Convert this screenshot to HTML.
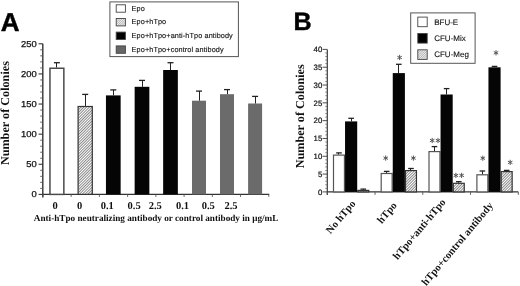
<!DOCTYPE html>
<html><head><meta charset="utf-8"><style>
html,body{margin:0;padding:0;background:#fff;overflow:hidden;}
svg{display:block;filter:grayscale(1);}
</style></head><body>
<svg text-rendering="geometricPrecision" width="520" height="286" viewBox="0 0 520 286">
<defs>
<pattern id="hatch" patternUnits="userSpaceOnUse" width="1.95" height="1.95" patternTransform="rotate(45)">
<rect width="1.95" height="1.95" fill="#fff"/><rect width="0.7" height="1.95" fill="#5a5a5a"/></pattern>
<pattern id="hatchL" patternUnits="userSpaceOnUse" width="1.6" height="1.6" patternTransform="rotate(45)">
<rect width="1.6" height="1.6" fill="#f2f2f2"/><rect width="0.7" height="1.6" fill="#aaa"/></pattern>
</defs>
<rect width="520" height="286" fill="#fff"/>
<text x="0.7" y="30.5" font-family='"Liberation Sans", sans-serif' font-size="25.8" font-weight="bold" text-anchor="start" fill="#000" stroke="#000" stroke-width="0.45" transform-origin="0.6 0" style="transform:scaleX(1.01)">A</text>
<rect x="109.9" y="1.9" width="128.5" height="54.7" fill="#fff" stroke="#555" stroke-width="1"/>
<rect x="116.2" y="4.8" width="9.2" height="7.4" fill="#fff" stroke="#444" stroke-width="0.9"/>
<text x="131.6" y="10.6" font-family='"Liberation Sans", sans-serif' font-size="7.3" font-weight="normal" text-anchor="start" fill="#111" stroke="#111" stroke-width="0.12" letter-spacing="0.1">Epo</text>
<rect x="116.2" y="18.5" width="9.2" height="7.4" fill="url(#hatchL)" stroke="#444" stroke-width="0.9"/>
<text x="131.6" y="24.3" font-family='"Liberation Sans", sans-serif' font-size="7.3" font-weight="normal" text-anchor="start" fill="#111" stroke="#111" stroke-width="0.12" letter-spacing="0.1">Epo+hTpo</text>
<rect x="116.2" y="32.1" width="9.2" height="7.4" fill="#000" stroke="#444" stroke-width="0.9"/>
<text x="131.6" y="37.9" font-family='"Liberation Sans", sans-serif' font-size="7.3" font-weight="normal" text-anchor="start" fill="#111" stroke="#111" stroke-width="0.12" letter-spacing="0.1">Epo+hTpo+anti-hTpo antibody</text>
<rect x="116.2" y="45.9" width="9.2" height="7.4" fill="#666" stroke="#444" stroke-width="0.9"/>
<text x="131.6" y="51.699999999999996" font-family='"Liberation Sans", sans-serif' font-size="7.3" font-weight="normal" text-anchor="start" fill="#111" stroke="#111" stroke-width="0.12" letter-spacing="0.1">Epo+hTpo+control antibody</text>
<line x1="42.8" y1="43.8" x2="42.8" y2="197.5" stroke="#333" stroke-width="1.4"/>
<line x1="38.6" y1="194.4" x2="42.8" y2="194.4" stroke="#333" stroke-width="1.1"/>
<text x="36.7" y="197.4" font-family='"Liberation Sans", sans-serif' font-size="8.6" font-weight="normal" text-anchor="end" fill="#111" stroke="#111" stroke-width="0.25" transform-origin="37 0" style="transform:scaleX(1.1)">0</text>
<line x1="40.2" y1="188.38" x2="42.8" y2="188.38" stroke="#555" stroke-width="0.9"/>
<line x1="40.2" y1="182.35" x2="42.8" y2="182.35" stroke="#555" stroke-width="0.9"/>
<line x1="40.2" y1="176.33" x2="42.8" y2="176.33" stroke="#555" stroke-width="0.9"/>
<line x1="40.2" y1="170.3" x2="42.8" y2="170.3" stroke="#555" stroke-width="0.9"/>
<line x1="38.6" y1="164.28" x2="42.8" y2="164.28" stroke="#333" stroke-width="1.1"/>
<text x="36.7" y="167.28" font-family='"Liberation Sans", sans-serif' font-size="8.6" font-weight="normal" text-anchor="end" fill="#111" stroke="#111" stroke-width="0.25" transform-origin="37 0" style="transform:scaleX(1.1)">50</text>
<line x1="40.2" y1="158.26" x2="42.8" y2="158.26" stroke="#555" stroke-width="0.9"/>
<line x1="40.2" y1="152.23" x2="42.8" y2="152.23" stroke="#555" stroke-width="0.9"/>
<line x1="40.2" y1="146.21" x2="42.8" y2="146.21" stroke="#555" stroke-width="0.9"/>
<line x1="40.2" y1="140.18" x2="42.8" y2="140.18" stroke="#555" stroke-width="0.9"/>
<line x1="38.6" y1="134.16" x2="42.8" y2="134.16" stroke="#333" stroke-width="1.1"/>
<text x="36.7" y="137.16" font-family='"Liberation Sans", sans-serif' font-size="8.6" font-weight="normal" text-anchor="end" fill="#111" stroke="#111" stroke-width="0.25" transform-origin="37 0" style="transform:scaleX(1.1)">100</text>
<line x1="40.2" y1="128.14" x2="42.8" y2="128.14" stroke="#555" stroke-width="0.9"/>
<line x1="40.2" y1="122.11" x2="42.8" y2="122.11" stroke="#555" stroke-width="0.9"/>
<line x1="40.2" y1="116.09" x2="42.8" y2="116.09" stroke="#555" stroke-width="0.9"/>
<line x1="40.2" y1="110.06" x2="42.8" y2="110.06" stroke="#555" stroke-width="0.9"/>
<line x1="38.6" y1="104.04" x2="42.8" y2="104.04" stroke="#333" stroke-width="1.1"/>
<text x="36.7" y="107.04" font-family='"Liberation Sans", sans-serif' font-size="8.6" font-weight="normal" text-anchor="end" fill="#111" stroke="#111" stroke-width="0.25" transform-origin="37 0" style="transform:scaleX(1.1)">150</text>
<line x1="40.2" y1="98.02" x2="42.8" y2="98.02" stroke="#555" stroke-width="0.9"/>
<line x1="40.2" y1="91.99" x2="42.8" y2="91.99" stroke="#555" stroke-width="0.9"/>
<line x1="40.2" y1="85.97" x2="42.8" y2="85.97" stroke="#555" stroke-width="0.9"/>
<line x1="40.2" y1="79.94" x2="42.8" y2="79.94" stroke="#555" stroke-width="0.9"/>
<line x1="38.6" y1="73.92" x2="42.8" y2="73.92" stroke="#333" stroke-width="1.1"/>
<text x="36.7" y="76.92" font-family='"Liberation Sans", sans-serif' font-size="8.6" font-weight="normal" text-anchor="end" fill="#111" stroke="#111" stroke-width="0.25" transform-origin="37 0" style="transform:scaleX(1.1)">200</text>
<line x1="40.2" y1="67.9" x2="42.8" y2="67.9" stroke="#555" stroke-width="0.9"/>
<line x1="40.2" y1="61.87" x2="42.8" y2="61.87" stroke="#555" stroke-width="0.9"/>
<line x1="40.2" y1="55.85" x2="42.8" y2="55.85" stroke="#555" stroke-width="0.9"/>
<line x1="40.2" y1="49.82" x2="42.8" y2="49.82" stroke="#555" stroke-width="0.9"/>
<line x1="38.6" y1="43.8" x2="42.8" y2="43.8" stroke="#333" stroke-width="1.1"/>
<text x="36.7" y="46.8" font-family='"Liberation Sans", sans-serif' font-size="8.6" font-weight="normal" text-anchor="end" fill="#111" stroke="#111" stroke-width="0.25" transform-origin="37 0" style="transform:scaleX(1.1)">250</text>
<line x1="42.8" y1="194.4" x2="269.2" y2="194.4" stroke="#333" stroke-width="1.2"/>
<line x1="42.9" y1="194.4" x2="42.9" y2="196.9" stroke="#555" stroke-width="0.9"/>
<line x1="71.14" y1="194.4" x2="71.14" y2="196.9" stroke="#555" stroke-width="0.9"/>
<line x1="99.38" y1="194.4" x2="99.38" y2="196.9" stroke="#555" stroke-width="0.9"/>
<line x1="127.62" y1="194.4" x2="127.62" y2="196.9" stroke="#555" stroke-width="0.9"/>
<line x1="155.86" y1="194.4" x2="155.86" y2="196.9" stroke="#555" stroke-width="0.9"/>
<line x1="184.1" y1="194.4" x2="184.1" y2="196.9" stroke="#555" stroke-width="0.9"/>
<line x1="212.34" y1="194.4" x2="212.34" y2="196.9" stroke="#555" stroke-width="0.9"/>
<line x1="240.58" y1="194.4" x2="240.58" y2="196.9" stroke="#555" stroke-width="0.9"/>
<line x1="268.82" y1="194.4" x2="268.82" y2="196.9" stroke="#555" stroke-width="0.9"/>
<rect x="49.95" y="68.25" width="13.9" height="126.15" fill="#fff" stroke="#4a4a4a" stroke-width="1.5"/>
<line x1="56.5" y1="67.5" x2="56.5" y2="62.6" stroke="#222" stroke-width="1.0"/>
<line x1="53.9" y1="62.7" x2="59.9" y2="62.7" stroke="#222" stroke-width="1.3"/>
<rect x="78.1" y="106.5" width="14.200000000000001" height="87.9" fill="url(#hatch)" stroke="#333" stroke-width="1.2"/>
<line x1="85.5" y1="105.9" x2="85.5" y2="94.3" stroke="#222" stroke-width="1.0"/>
<line x1="82.2" y1="94.39999999999999" x2="88.2" y2="94.39999999999999" stroke="#222" stroke-width="1.3"/>
<rect x="105.95" y="95.4" width="14.7" height="99.0" fill="#050505" stroke="none" stroke-width="1"/>
<line x1="113.5" y1="95.4" x2="113.5" y2="89.8" stroke="#222" stroke-width="1.0"/>
<line x1="110.3" y1="89.89999999999999" x2="116.3" y2="89.89999999999999" stroke="#222" stroke-width="1.3"/>
<rect x="134.65" y="86.8" width="14.7" height="107.60000000000001" fill="#050505" stroke="none" stroke-width="1"/>
<line x1="142.5" y1="86.8" x2="142.5" y2="80.3" stroke="#222" stroke-width="1.0"/>
<line x1="139.0" y1="80.39999999999999" x2="145.0" y2="80.39999999999999" stroke="#222" stroke-width="1.3"/>
<rect x="163.15" y="70.0" width="14.7" height="124.4" fill="#050505" stroke="none" stroke-width="1"/>
<line x1="170.5" y1="70.0" x2="170.5" y2="62.6" stroke="#222" stroke-width="1.0"/>
<line x1="167.5" y1="62.7" x2="173.5" y2="62.7" stroke="#222" stroke-width="1.3"/>
<rect x="192.0" y="100.7" width="14.0" height="93.7" fill="#6b6b6b" stroke="none" stroke-width="1"/>
<line x1="199.5" y1="100.7" x2="199.5" y2="91.0" stroke="#222" stroke-width="1.0"/>
<line x1="196.0" y1="91.1" x2="202.0" y2="91.1" stroke="#222" stroke-width="1.3"/>
<rect x="220.0" y="94.2" width="14.0" height="100.2" fill="#6b6b6b" stroke="none" stroke-width="1"/>
<line x1="227.5" y1="94.2" x2="227.5" y2="89.5" stroke="#222" stroke-width="1.0"/>
<line x1="224.0" y1="89.6" x2="230.0" y2="89.6" stroke="#222" stroke-width="1.3"/>
<rect x="248.1" y="103.5" width="14.0" height="90.9" fill="#6b6b6b" stroke="none" stroke-width="1"/>
<line x1="255.5" y1="103.5" x2="255.5" y2="96.3" stroke="#222" stroke-width="1.0"/>
<line x1="252.1" y1="96.39999999999999" x2="258.1" y2="96.39999999999999" stroke="#222" stroke-width="1.3"/>
<text x="55.0" y="208.5" font-family='"Liberation Serif", serif' font-size="10.5" font-weight="bold" text-anchor="middle" fill="#111" >0</text>
<text x="79.6" y="208.5" font-family='"Liberation Serif", serif' font-size="10.5" font-weight="bold" text-anchor="middle" fill="#111" >0</text>
<text x="107.2" y="208.5" font-family='"Liberation Serif", serif' font-size="10.5" font-weight="bold" text-anchor="middle" fill="#111" >0.1</text>
<text x="134.1" y="208.5" font-family='"Liberation Serif", serif' font-size="10.5" font-weight="bold" text-anchor="middle" fill="#111" >0.5</text>
<text x="155.2" y="208.5" font-family='"Liberation Serif", serif' font-size="10.5" font-weight="bold" text-anchor="middle" fill="#111" >2.5</text>
<text x="182.5" y="208.5" font-family='"Liberation Serif", serif' font-size="10.5" font-weight="bold" text-anchor="middle" fill="#111" >0.1</text>
<text x="208.2" y="208.5" font-family='"Liberation Serif", serif' font-size="10.5" font-weight="bold" text-anchor="middle" fill="#111" >0.5</text>
<text x="231.0" y="208.5" font-family='"Liberation Serif", serif' font-size="10.5" font-weight="bold" text-anchor="middle" fill="#111" >2.5</text>
<text x="33.8" y="220.8" font-family='"Liberation Serif", serif' font-size="9.2" font-weight="bold" text-anchor="start" fill="#111" >Anti-hTpo neutralizing antibody or control antibody in μg/mL</text>
<text x="0" y="0" font-family='"Liberation Serif", serif' font-size="12.2" font-weight="bold" fill="#111" text-anchor="middle" transform="translate(9.2,113.1) rotate(-90)">Number of Colonies</text>
<text x="293.6" y="30.1" font-family='"Liberation Sans", sans-serif' font-size="25.1" font-weight="bold" text-anchor="start" fill="#000" stroke="#000" stroke-width="0.4" >B</text>
<rect x="410.7" y="12.9" width="64.4" height="50.4" fill="#fff" stroke="#555" stroke-width="1"/>
<rect x="417.8" y="17.1" width="9.4" height="9.6" fill="#fff" stroke="#444" stroke-width="0.9"/>
<text x="434.2" y="24.5" font-family='"Liberation Sans", sans-serif' font-size="8" font-weight="normal" text-anchor="start" fill="#111" stroke="#111" stroke-width="0.12" >BFU-E</text>
<rect x="417.8" y="33.5" width="9.4" height="9.6" fill="#000" stroke="#444" stroke-width="0.9"/>
<text x="434.2" y="40.9" font-family='"Liberation Sans", sans-serif' font-size="8" font-weight="normal" text-anchor="start" fill="#111" stroke="#111" stroke-width="0.12" >CFU-Mix</text>
<rect x="417.8" y="49.8" width="9.4" height="9.6" fill="url(#hatchL)" stroke="#444" stroke-width="0.9"/>
<text x="434.2" y="57.199999999999996" font-family='"Liberation Sans", sans-serif' font-size="8" font-weight="normal" text-anchor="start" fill="#111" stroke="#111" stroke-width="0.12" >CFU-Meg</text>
<line x1="327.3" y1="49.4" x2="327.3" y2="195" stroke="#3a3a3a" stroke-width="1.2"/>
<line x1="322.6" y1="191.9" x2="327.3" y2="191.9" stroke="#3a3a3a" stroke-width="0.9"/>
<text x="322.3" y="194.70000000000002" font-family='"Liberation Sans", sans-serif' font-size="7.8" font-weight="normal" text-anchor="end" fill="#111" stroke="#111" stroke-width="0.2" >0</text>
<line x1="325.3" y1="188.34" x2="327.3" y2="188.34" stroke="#666" stroke-width="0.8"/>
<line x1="325.3" y1="184.78" x2="327.3" y2="184.78" stroke="#666" stroke-width="0.8"/>
<line x1="325.3" y1="181.21" x2="327.3" y2="181.21" stroke="#666" stroke-width="0.8"/>
<line x1="325.3" y1="177.65" x2="327.3" y2="177.65" stroke="#666" stroke-width="0.8"/>
<line x1="322.6" y1="174.09" x2="327.3" y2="174.09" stroke="#3a3a3a" stroke-width="0.9"/>
<text x="322.3" y="176.89000000000001" font-family='"Liberation Sans", sans-serif' font-size="7.8" font-weight="normal" text-anchor="end" fill="#111" stroke="#111" stroke-width="0.2" >5</text>
<line x1="325.3" y1="170.53" x2="327.3" y2="170.53" stroke="#666" stroke-width="0.8"/>
<line x1="325.3" y1="166.96" x2="327.3" y2="166.96" stroke="#666" stroke-width="0.8"/>
<line x1="325.3" y1="163.4" x2="327.3" y2="163.4" stroke="#666" stroke-width="0.8"/>
<line x1="325.3" y1="159.84" x2="327.3" y2="159.84" stroke="#666" stroke-width="0.8"/>
<line x1="322.6" y1="156.28" x2="327.3" y2="156.28" stroke="#3a3a3a" stroke-width="0.9"/>
<text x="322.3" y="159.08" font-family='"Liberation Sans", sans-serif' font-size="7.8" font-weight="normal" text-anchor="end" fill="#111" stroke="#111" stroke-width="0.2" >10</text>
<line x1="325.3" y1="152.71" x2="327.3" y2="152.71" stroke="#666" stroke-width="0.8"/>
<line x1="325.3" y1="149.15" x2="327.3" y2="149.15" stroke="#666" stroke-width="0.8"/>
<line x1="325.3" y1="145.59" x2="327.3" y2="145.59" stroke="#666" stroke-width="0.8"/>
<line x1="325.3" y1="142.03" x2="327.3" y2="142.03" stroke="#666" stroke-width="0.8"/>
<line x1="322.6" y1="138.46" x2="327.3" y2="138.46" stroke="#3a3a3a" stroke-width="0.9"/>
<text x="322.3" y="141.26000000000002" font-family='"Liberation Sans", sans-serif' font-size="7.8" font-weight="normal" text-anchor="end" fill="#111" stroke="#111" stroke-width="0.2" >15</text>
<line x1="325.3" y1="134.9" x2="327.3" y2="134.9" stroke="#666" stroke-width="0.8"/>
<line x1="325.3" y1="131.34" x2="327.3" y2="131.34" stroke="#666" stroke-width="0.8"/>
<line x1="325.3" y1="127.78" x2="327.3" y2="127.78" stroke="#666" stroke-width="0.8"/>
<line x1="325.3" y1="124.21" x2="327.3" y2="124.21" stroke="#666" stroke-width="0.8"/>
<line x1="322.6" y1="120.65" x2="327.3" y2="120.65" stroke="#3a3a3a" stroke-width="0.9"/>
<text x="322.3" y="123.45" font-family='"Liberation Sans", sans-serif' font-size="7.8" font-weight="normal" text-anchor="end" fill="#111" stroke="#111" stroke-width="0.2" >20</text>
<line x1="325.3" y1="117.09" x2="327.3" y2="117.09" stroke="#666" stroke-width="0.8"/>
<line x1="325.3" y1="113.53" x2="327.3" y2="113.53" stroke="#666" stroke-width="0.8"/>
<line x1="325.3" y1="109.96" x2="327.3" y2="109.96" stroke="#666" stroke-width="0.8"/>
<line x1="325.3" y1="106.4" x2="327.3" y2="106.4" stroke="#666" stroke-width="0.8"/>
<line x1="322.6" y1="102.84" x2="327.3" y2="102.84" stroke="#3a3a3a" stroke-width="0.9"/>
<text x="322.3" y="105.64" font-family='"Liberation Sans", sans-serif' font-size="7.8" font-weight="normal" text-anchor="end" fill="#111" stroke="#111" stroke-width="0.2" >25</text>
<line x1="325.3" y1="99.28" x2="327.3" y2="99.28" stroke="#666" stroke-width="0.8"/>
<line x1="325.3" y1="95.71" x2="327.3" y2="95.71" stroke="#666" stroke-width="0.8"/>
<line x1="325.3" y1="92.15" x2="327.3" y2="92.15" stroke="#666" stroke-width="0.8"/>
<line x1="325.3" y1="88.59" x2="327.3" y2="88.59" stroke="#666" stroke-width="0.8"/>
<line x1="322.6" y1="85.03" x2="327.3" y2="85.03" stroke="#3a3a3a" stroke-width="0.9"/>
<text x="322.3" y="87.83" font-family='"Liberation Sans", sans-serif' font-size="7.8" font-weight="normal" text-anchor="end" fill="#111" stroke="#111" stroke-width="0.2" >30</text>
<line x1="325.3" y1="81.46" x2="327.3" y2="81.46" stroke="#666" stroke-width="0.8"/>
<line x1="325.3" y1="77.9" x2="327.3" y2="77.9" stroke="#666" stroke-width="0.8"/>
<line x1="325.3" y1="74.34" x2="327.3" y2="74.34" stroke="#666" stroke-width="0.8"/>
<line x1="325.3" y1="70.78" x2="327.3" y2="70.78" stroke="#666" stroke-width="0.8"/>
<line x1="322.6" y1="67.21" x2="327.3" y2="67.21" stroke="#3a3a3a" stroke-width="0.9"/>
<text x="322.3" y="70.00999999999999" font-family='"Liberation Sans", sans-serif' font-size="7.8" font-weight="normal" text-anchor="end" fill="#111" stroke="#111" stroke-width="0.2" >35</text>
<line x1="325.3" y1="63.65" x2="327.3" y2="63.65" stroke="#666" stroke-width="0.8"/>
<line x1="325.3" y1="60.09" x2="327.3" y2="60.09" stroke="#666" stroke-width="0.8"/>
<line x1="325.3" y1="56.53" x2="327.3" y2="56.53" stroke="#666" stroke-width="0.8"/>
<line x1="325.3" y1="52.96" x2="327.3" y2="52.96" stroke="#666" stroke-width="0.8"/>
<line x1="322.6" y1="49.4" x2="327.3" y2="49.4" stroke="#3a3a3a" stroke-width="0.9"/>
<text x="322.3" y="52.199999999999996" font-family='"Liberation Sans", sans-serif' font-size="7.8" font-weight="normal" text-anchor="end" fill="#111" stroke="#111" stroke-width="0.2" >40</text>
<line x1="327.3" y1="191.9" x2="518.3" y2="191.9" stroke="#333" stroke-width="1.2"/>
<line x1="327.3" y1="191.9" x2="327.3" y2="194.9" stroke="#555" stroke-width="0.9"/>
<line x1="375.05" y1="191.9" x2="375.05" y2="194.9" stroke="#555" stroke-width="0.9"/>
<line x1="422.8" y1="191.9" x2="422.8" y2="194.9" stroke="#555" stroke-width="0.9"/>
<line x1="470.55" y1="191.9" x2="470.55" y2="194.9" stroke="#555" stroke-width="0.9"/>
<line x1="518.3" y1="191.9" x2="518.3" y2="194.9" stroke="#555" stroke-width="0.9"/>
<rect x="333.5" y="155.1" width="10.950000000000001" height="36.800000000000004" fill="#fff" stroke="#555" stroke-width="1.2"/>
<line x1="338.5" y1="154.5" x2="338.5" y2="152.8" stroke="#222" stroke-width="1.0"/>
<line x1="336.17" y1="152.9" x2="341.77" y2="152.9" stroke="#222" stroke-width="1.3"/>
<rect x="345.05" y="121.4" width="12.15" height="70.5" fill="#050505" stroke="none" stroke-width="1"/>
<line x1="351.5" y1="121.4" x2="351.5" y2="118.2" stroke="#222" stroke-width="1.0"/>
<line x1="348.32" y1="118.3" x2="353.92" y2="118.3" stroke="#222" stroke-width="1.3"/>
<rect x="357.8" y="190.4" width="10.950000000000001" height="1.4999999999999942" fill="url(#hatch)" stroke="#333" stroke-width="1.2"/>
<line x1="363.5" y1="189.8" x2="363.5" y2="189.0" stroke="#222" stroke-width="1.0"/>
<line x1="360.47" y1="189.1" x2="366.07" y2="189.1" stroke="#222" stroke-width="1.3"/>
<rect x="381.20000000000005" y="173.5" width="10.950000000000001" height="18.4" fill="#fff" stroke="#555" stroke-width="1.2"/>
<line x1="386.5" y1="172.9" x2="386.5" y2="171.3" stroke="#222" stroke-width="1.0"/>
<line x1="383.88" y1="171.4" x2="389.48" y2="171.4" stroke="#222" stroke-width="1.3"/>
<rect x="392.75" y="73.1" width="12.15" height="118.80000000000001" fill="#050505" stroke="none" stroke-width="1"/>
<line x1="398.5" y1="73.1" x2="398.5" y2="64.2" stroke="#222" stroke-width="1.0"/>
<line x1="396.02" y1="64.3" x2="401.62" y2="64.3" stroke="#222" stroke-width="1.3"/>
<rect x="405.5" y="170.6" width="10.950000000000001" height="21.300000000000004" fill="url(#hatch)" stroke="#333" stroke-width="1.2"/>
<line x1="410.5" y1="170.0" x2="410.5" y2="168.4" stroke="#222" stroke-width="1.0"/>
<line x1="408.17" y1="168.5" x2="413.77" y2="168.5" stroke="#222" stroke-width="1.3"/>
<rect x="429.0" y="151.6" width="10.950000000000001" height="40.300000000000004" fill="#fff" stroke="#555" stroke-width="1.2"/>
<line x1="434.5" y1="151.0" x2="434.5" y2="146.5" stroke="#222" stroke-width="1.0"/>
<line x1="431.67" y1="146.6" x2="437.27" y2="146.6" stroke="#222" stroke-width="1.3"/>
<rect x="440.55" y="94.5" width="12.15" height="97.4" fill="#050505" stroke="none" stroke-width="1"/>
<line x1="446.5" y1="94.5" x2="446.5" y2="88.5" stroke="#222" stroke-width="1.0"/>
<line x1="443.82" y1="88.6" x2="449.42" y2="88.6" stroke="#222" stroke-width="1.3"/>
<rect x="453.3" y="183.29999999999998" width="10.950000000000001" height="8.600000000000017" fill="url(#hatch)" stroke="#333" stroke-width="1.2"/>
<line x1="458.5" y1="182.7" x2="458.5" y2="181.6" stroke="#222" stroke-width="1.0"/>
<line x1="455.97" y1="181.7" x2="461.57" y2="181.7" stroke="#222" stroke-width="1.3"/>
<rect x="476.90000000000003" y="174.79999999999998" width="10.950000000000001" height="17.100000000000016" fill="#fff" stroke="#555" stroke-width="1.2"/>
<line x1="482.5" y1="174.2" x2="482.5" y2="170.9" stroke="#222" stroke-width="1.0"/>
<line x1="479.58" y1="171.0" x2="485.18" y2="171.0" stroke="#222" stroke-width="1.3"/>
<rect x="488.45" y="67.3" width="12.15" height="124.60000000000001" fill="#050505" stroke="none" stroke-width="1"/>
<line x1="494.5" y1="67.3" x2="494.5" y2="66.3" stroke="#222" stroke-width="1.0"/>
<line x1="491.72" y1="66.39999999999999" x2="497.32" y2="66.39999999999999" stroke="#222" stroke-width="1.3"/>
<rect x="501.20000000000005" y="171.6" width="10.950000000000001" height="20.300000000000004" fill="url(#hatch)" stroke="#333" stroke-width="1.2"/>
<line x1="506.5" y1="171.0" x2="506.5" y2="170.3" stroke="#222" stroke-width="1.0"/>
<line x1="503.88" y1="170.4" x2="509.48" y2="170.4" stroke="#222" stroke-width="1.3"/>
<line x1="399.6" y1="54.9" x2="399.6" y2="60.1" stroke="#555" stroke-width="1.0"/>
<line x1="397.35" y1="56.2" x2="401.85" y2="58.8" stroke="#555" stroke-width="1.0"/>
<line x1="401.85" y1="56.2" x2="397.35" y2="58.8" stroke="#555" stroke-width="1.0"/>
<line x1="385.7" y1="155.5" x2="385.7" y2="160.7" stroke="#555" stroke-width="1.0"/>
<line x1="383.45" y1="156.8" x2="387.95" y2="159.4" stroke="#555" stroke-width="1.0"/>
<line x1="387.95" y1="156.8" x2="383.45" y2="159.4" stroke="#555" stroke-width="1.0"/>
<line x1="413.4" y1="155.5" x2="413.4" y2="160.7" stroke="#555" stroke-width="1.0"/>
<line x1="411.15" y1="156.8" x2="415.65" y2="159.4" stroke="#555" stroke-width="1.0"/>
<line x1="415.65" y1="156.8" x2="411.15" y2="159.4" stroke="#555" stroke-width="1.0"/>
<line x1="510.2" y1="159.8" x2="510.2" y2="165.0" stroke="#555" stroke-width="1.0"/>
<line x1="507.95" y1="161.1" x2="512.45" y2="163.7" stroke="#555" stroke-width="1.0"/>
<line x1="512.45" y1="161.1" x2="507.95" y2="163.7" stroke="#555" stroke-width="1.0"/>
<line x1="496.0" y1="50.2" x2="496.0" y2="55.4" stroke="#555" stroke-width="1.0"/>
<line x1="493.75" y1="51.5" x2="498.25" y2="54.1" stroke="#555" stroke-width="1.0"/>
<line x1="498.25" y1="51.5" x2="493.75" y2="54.1" stroke="#555" stroke-width="1.0"/>
<line x1="482.8" y1="155.6" x2="482.8" y2="160.8" stroke="#555" stroke-width="1.0"/>
<line x1="480.55" y1="156.9" x2="485.05" y2="159.5" stroke="#555" stroke-width="1.0"/>
<line x1="485.05" y1="156.9" x2="480.55" y2="159.5" stroke="#555" stroke-width="1.0"/>
<line x1="432.2" y1="137.9" x2="432.2" y2="143.1" stroke="#555" stroke-width="1.0"/>
<line x1="429.95" y1="139.2" x2="434.45" y2="141.8" stroke="#555" stroke-width="1.0"/>
<line x1="434.45" y1="139.2" x2="429.95" y2="141.8" stroke="#555" stroke-width="1.0"/>
<line x1="438.0" y1="137.9" x2="438.0" y2="143.1" stroke="#555" stroke-width="1.0"/>
<line x1="435.75" y1="139.2" x2="440.25" y2="141.8" stroke="#555" stroke-width="1.0"/>
<line x1="440.25" y1="139.2" x2="435.75" y2="141.8" stroke="#555" stroke-width="1.0"/>
<line x1="455.9" y1="172.8" x2="455.9" y2="178.0" stroke="#555" stroke-width="1.0"/>
<line x1="453.65" y1="174.1" x2="458.15" y2="176.7" stroke="#555" stroke-width="1.0"/>
<line x1="458.15" y1="174.1" x2="453.65" y2="176.7" stroke="#555" stroke-width="1.0"/>
<line x1="461.6" y1="172.8" x2="461.6" y2="178.0" stroke="#555" stroke-width="1.0"/>
<line x1="459.35" y1="174.1" x2="463.85" y2="176.7" stroke="#555" stroke-width="1.0"/>
<line x1="463.85" y1="174.1" x2="459.35" y2="176.7" stroke="#555" stroke-width="1.0"/>
<text x="0" y="0" font-family='"Liberation Serif", serif' font-size="10.6" font-weight="bold" fill="#111" text-anchor="end" transform="translate(350.7,199.5) rotate(-50) translate(0,7)">No hTpo</text>
<text x="0" y="0" font-family='"Liberation Serif", serif' font-size="10.6" font-weight="bold" fill="#111" text-anchor="end" transform="translate(392.0,201.2) rotate(-50) translate(0,7)">hTpo</text>
<text x="0" y="0" font-family='"Liberation Serif", serif' font-size="10.6" font-weight="bold" fill="#111" text-anchor="end" transform="translate(440.8,198.0) rotate(-50) translate(0,7)">hTpo+anti-hTpo</text>
<text x="0" y="0" font-family='"Liberation Serif", serif' font-size="10.6" font-weight="bold" fill="#111" text-anchor="end" transform="translate(488.4,201.25) rotate(-50) translate(0,7)">hTpo+control antibody</text>
<text x="0" y="0" font-family='"Liberation Serif", serif' font-size="12.2" font-weight="bold" fill="#111" text-anchor="middle" transform="translate(304.1,116.3) rotate(-90)">Number of Colonies</text>
</svg>
</body></html>
